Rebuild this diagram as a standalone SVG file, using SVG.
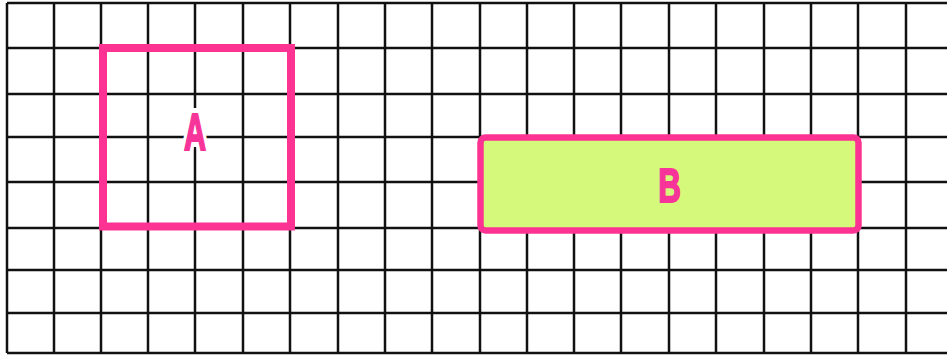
<svg xmlns="http://www.w3.org/2000/svg" width="947" height="355" viewBox="0 0 947 355">
<style>
.grid line{stroke:#111;stroke-width:2.5}
.box{stroke:#fd3393;}
.lbl{font-family:"Liberation Sans",Arial,sans-serif;font-weight:bold;fill:#f7349a;stroke:#f7349a;stroke-width:2;text-anchor:middle}
.halo{fill:#ffffff;stroke:#ffffff;stroke-width:12;stroke-linejoin:round}
</style>
<rect width="947" height="355" fill="#ffffff"/>
<g class="grid">
<line x1="7" y1="3" x2="947" y2="3"/>
<line x1="7" y1="48" x2="947" y2="48"/>
<line x1="7" y1="94" x2="947" y2="94"/>
<line x1="7" y1="137" x2="947" y2="137"/>
<line x1="7" y1="182" x2="947" y2="182"/>
<line x1="7" y1="228" x2="947" y2="228"/>
<line x1="7" y1="270" x2="947" y2="270"/>
<line x1="7" y1="313" x2="947" y2="313"/>
<line x1="7" y1="353" x2="947" y2="353"/>
<line x1="7" y1="3" x2="7" y2="353"/>
<line x1="54" y1="3" x2="54" y2="353"/>
<line x1="101" y1="3" x2="101" y2="353"/>
<line x1="148" y1="3" x2="148" y2="353"/>
<line x1="195" y1="3" x2="195" y2="353"/>
<line x1="243" y1="3" x2="243" y2="353"/>
<line x1="290" y1="3" x2="290" y2="353"/>
<line x1="338" y1="3" x2="338" y2="353"/>
<line x1="385" y1="3" x2="385" y2="353"/>
<line x1="432" y1="3" x2="432" y2="353"/>
<line x1="480" y1="3" x2="480" y2="353"/>
<line x1="527" y1="3" x2="527" y2="353"/>
<line x1="574" y1="3" x2="574" y2="353"/>
<line x1="621" y1="3" x2="621" y2="353"/>
<line x1="669" y1="3" x2="669" y2="353"/>
<line x1="716" y1="3" x2="716" y2="353"/>
<line x1="764" y1="3" x2="764" y2="353"/>
<line x1="811" y1="3" x2="811" y2="353"/>
<line x1="858" y1="3" x2="858" y2="353"/>
<line x1="906" y1="3" x2="906" y2="353"/>
</g>
<g id="nodeA">
<rect class="box" x="103" y="48" width="188" height="178.5" fill="none" stroke-width="8"/>
<text class="lbl halo" transform="translate(195,150) scale(0.6,1)" font-size="51">A</text>
<text class="lbl" transform="translate(195,150) scale(0.6,1)" font-size="51">A</text>
</g>
<g id="nodeB">
<rect class="box" x="480.5" y="137.5" width="378" height="93" rx="5" fill="#d4f97b" stroke-width="6.5"/>
<text class="lbl" transform="translate(669.5,202) scale(0.64,1)" font-size="49">B</text>
</g>
<g id="connectors"></g>
</svg>
